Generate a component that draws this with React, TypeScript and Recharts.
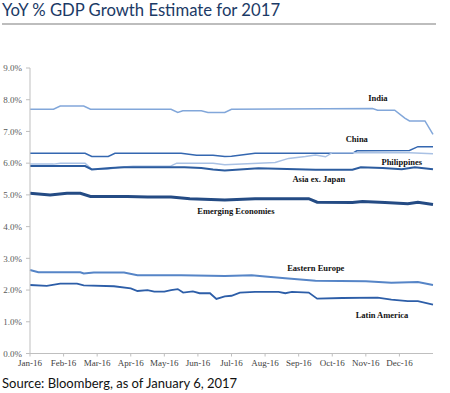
import React from 'react';
import { LineChart, Line, XAxis, YAxis, ReferenceDot } from 'recharts';

const monthLabels = ['Jan-16','Feb-16','Mar-16','Apr-16','May-16','Jun-16','Jul-16','Aug-16','Sep-16','Oct-16','Nov-16','Dec-16'];
const yTicks = [0,1,2,3,4,5,6,7,8,9];

// [month position, value %]
const india: [number, number][] = [
  [0,7.7],[0.7,7.7],[0.9,7.8],[1.6,7.8],[1.8,7.7],[4.2,7.7],[4.4,7.6],[4.55,7.65],[5.1,7.65],[5.3,7.6],[5.8,7.6],[6.0,7.7],[10.2,7.72],[10.35,7.67],[10.86,7.67],[11.16,7.42],[11.3,7.33],[11.76,7.33],[12,6.91]
];
const china: [number, number][] = [
  [0,6.31],[1.64,6.31],[1.84,6.21],[2.33,6.21],[2.53,6.31],[4.5,6.31],[4.96,6.25],[5.45,6.25],[5.8,6.21],[6.0,6.22],[6.7,6.31],[9.6,6.31],[9.73,6.39],[11.3,6.4],[11.55,6.52],[12,6.52]
];
const philippines: [number, number][] = [
  [0,5.97],[0.7,5.97],[0.9,6.0],[1.64,6.0],[1.84,5.81],[2.3,5.81],[2.6,5.86],[3.07,5.9],[4.17,5.9],[4.37,6.0],[5.45,6.0],[5.8,5.95],[7.3,6.02],[7.7,6.15],[8.2,6.21],[8.5,6.26],[8.8,6.2],[9.0,6.33],[11.3,6.33],[12,6.3]
];
const asiaExJapan: [number, number][] = [
  [0,5.91],[1.64,5.91],[1.84,5.8],[2.4,5.85],[2.8,5.87],[4.6,5.87],[5.1,5.85],[5.45,5.8],[5.8,5.77],[6.8,5.84],[8.5,5.79],[9.6,5.79],[9.85,5.87],[10.5,5.85],[11.07,5.81],[11.46,5.87],[12,5.81]
];
const emerging: [number, number][] = [
  [0,5.05],[0.6,5.0],[1.1,5.05],[1.5,5.05],[1.8,4.95],[2.9,4.95],[3.5,4.93],[4.2,4.93],[4.76,4.88],[5.8,4.84],[6.7,4.88],[8.3,4.88],[8.55,4.77],[9.6,4.76],[9.9,4.79],[10.57,4.76],[11.25,4.72],[11.55,4.77],[12,4.7]
];
const easternEurope: [number, number][] = [
  [0,2.63],[0.25,2.56],[1.5,2.56],[1.6,2.52],[1.9,2.55],[2.8,2.55],[3.2,2.47],[4.5,2.47],[5.8,2.44],[6.6,2.47],[7.0,2.43],[7.6,2.37],[8.5,2.29],[10.0,2.28],[10.76,2.23],[11.55,2.25],[12,2.16]
];
const latinAmerica: [number, number][] = [
  [0,2.16],[0.5,2.13],[0.9,2.2],[1.4,2.2],[1.6,2.15],[2.5,2.12],[3.0,2.05],[3.2,1.97],[3.5,2.0],[3.7,1.95],[4.0,1.95],[4.2,2.0],[4.4,2.03],[4.56,1.92],[4.85,1.96],[5.05,1.9],[5.36,1.9],[5.55,1.72],[5.8,1.8],[6.0,1.82],[6.25,1.92],[6.7,1.94],[7.4,1.94],[7.6,1.9],[7.8,1.94],[8.3,1.92],[8.55,1.73],[9.3,1.75],[10.35,1.76],[10.76,1.7],[11.25,1.65],[11.55,1.65],[12,1.54]
];

const seriesLabels: { text: string; m: number; v: number }[] = [
  { text: 'India', m: 10.36, v: 8.07 },
  { text: 'China', m: 9.73, v: 6.77 },
  { text: 'Philippines', m: 11.07, v: 6.04 },
  { text: 'Asia ex. Japan', m: 8.6, v: 5.5 },
  { text: 'Emerging Economies', m: 6.13, v: 4.5 },
  { text: 'Eastern Europe', m: 8.51, v: 2.7 },
  { text: 'Latin America', m: 10.48, v: 1.21 },
];

const toData = (arr: [number, number][]) => arr.map(([m, v]) => ({ m, v }));

const series = [
  { name: 'India', data: india, color: '#82a7da', width: 1.5 },
  { name: 'China', data: china, color: '#3467b0', width: 1.5 },
  { name: 'Philippines', data: philippines, color: '#a9c1e4', width: 1.5 },
  { name: 'Asia ex. Japan', data: asiaExJapan, color: '#2c5c9f', width: 2 },
  { name: 'Emerging Economies', data: emerging, color: '#244b84', width: 3 },
  { name: 'Eastern Europe', data: easternEurope, color: '#5685c7', width: 2 },
  { name: 'Latin America', data: latinAmerica, color: '#2d5ea8', width: 1.8 },
];

const serif = '"Liberation Serif", "DejaVu Serif", serif';

const LabelText = (props: any) => {
  const { viewBox, value } = props;
  const cx = viewBox.x + (viewBox.width || 0) / 2;
  const cy = viewBox.y + (viewBox.height || 0) / 2;
  return (
    <text x={cx} y={cy} textAnchor="middle" dominantBaseline="central" fontFamily={serif} fontSize={8.5} fontWeight="bold" fill="#111">
      {value}
    </text>
  );
};

export default function App() {
  return (
    <div style={{ position: 'absolute', left: 0, top: 0, width: 450, height: 393, background: '#fff', overflow: 'hidden' }}>
      <div style={{ position: 'absolute', left: 2, top: 0, fontFamily: 'Lato, "Open Sans", sans-serif', fontSize: 16.7, lineHeight: '20px', color: '#1b3a66', whiteSpace: 'nowrap' }}>
        YoY % GDP Growth Estimate for 2017
      </div>
      <div style={{ position: 'absolute', left: 2, top: 23, width: 434, height: 2, background: '#bdbdbd' }} />
      <div style={{ position: 'absolute', left: 0, top: 0 }}>
        <LineChart width={450} height={393} margin={{ top: 68, right: 17, bottom: 19.5, left: 0 }}>
          <XAxis
            type="number"
            dataKey="m"
            domain={[0, 12]}
            ticks={[0,1,2,3,4,5,6,7,8,9,10,11]}
            tickFormatter={(v: number) => monthLabels[v] ?? ''}
            height={20}
            stroke="#bfbfbf"
            tickSize={3}
            tickMargin={3}
            tick={{ fontFamily: serif, fontSize: 9, fill: '#404040' }}
            interval={0}
            allowDuplicatedCategory={false}
          />
          <YAxis
            type="number"
            domain={[0, 9]}
            ticks={yTicks}
            tickFormatter={(v: number) => v.toFixed(1) + '%'}
            width={30}
            stroke="#bfbfbf"
            tickSize={4}
            tickMargin={4}
            tick={{ fontFamily: serif, fontSize: 9, fill: '#595959' }}
            interval={0}
          />
          {series.map((s) => (
            <Line
              key={s.name}
              data={toData(s.data)}
              dataKey="v"
              type="linear"
              stroke={s.color}
              strokeWidth={s.width}
              dot={false}
              activeDot={false}
              isAnimationActive={false}
            />
          ))}
          {seriesLabels.map((l) => (
            <ReferenceDot key={l.text} x={l.m} y={l.v} r={0} fill="none" stroke="none" label={<LabelText value={l.text} />} />
          ))}
        </LineChart>
      </div>
      <div style={{ position: 'absolute', left: 2, top: 375, fontFamily: 'Lato, "Open Sans", sans-serif', fontSize: 13, color: '#111', whiteSpace: 'nowrap' }}>
        Source: Bloomberg, as of January 6, 2017
      </div>
    </div>
  );
}
